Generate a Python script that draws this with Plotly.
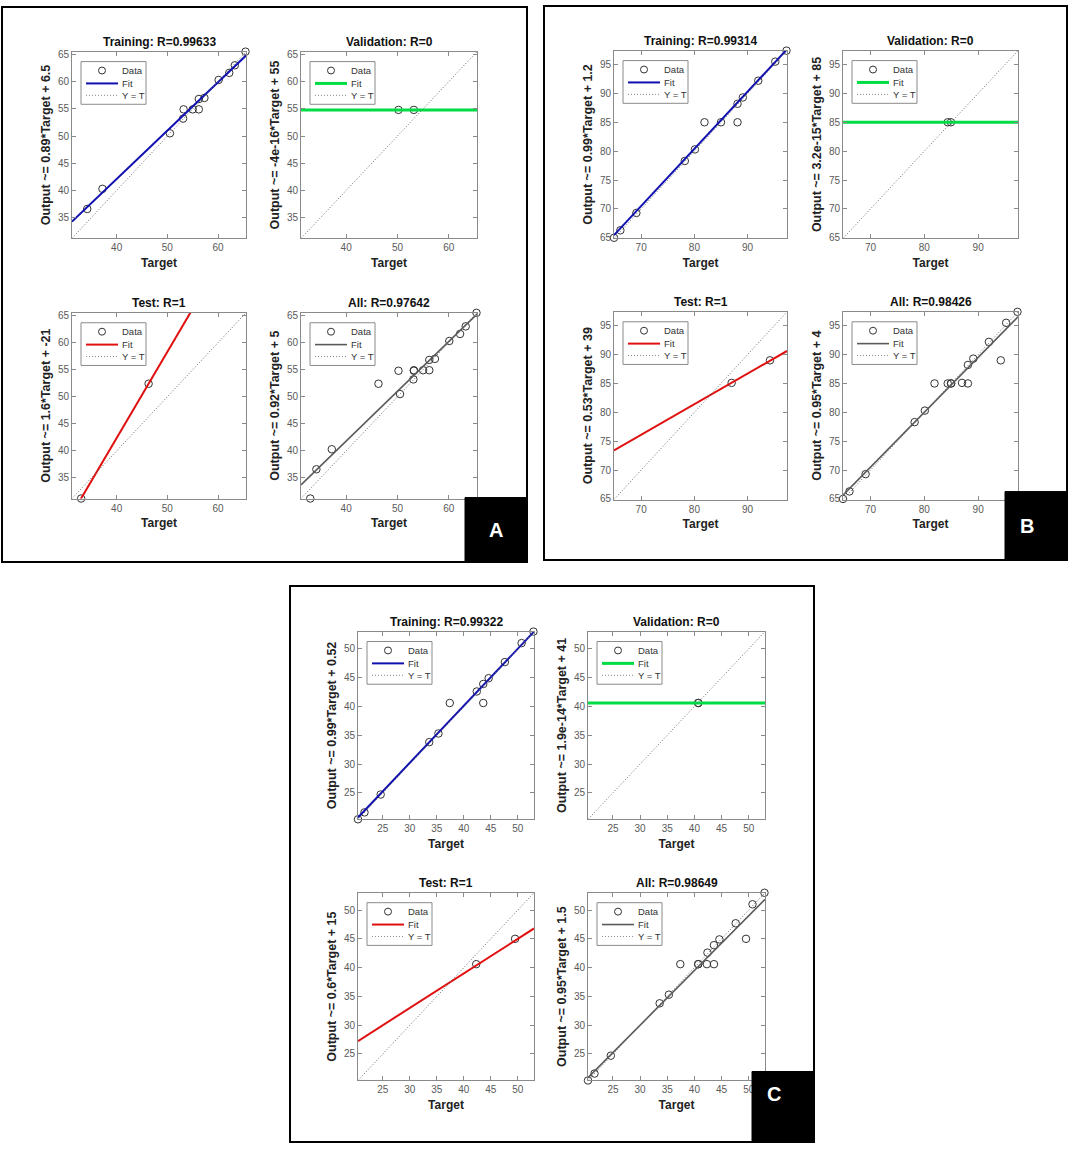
import plotly.graph_objects as go

W, H = 1072, 1150

# ---------------- data ----------------
plot_names = ['Training', 'Validation', 'Test', 'All']

# panel A
A_train_t = [34.2, 37.2, 50.5, 53.1, 53.2, 55.0, 56.2, 56.2, 57.3, 60.1, 62.2, 63.3, 65.4]
A_train_y = [36.6, 40.3, 50.5, 53.2, 54.9, 54.9, 54.9, 56.8, 57.0, 60.3, 61.6, 63.0, 65.5]
A_val_t = [50.2, 53.2]
A_val_y = [54.8, 54.8]
A_test_t = [33.0, 46.3]
A_test_y = [31.2, 52.4]
A_slope = [0.89, 0.0, 1.593, 0.92]
A_icpt = [6.5, 54.8, -21.35, 5.0]
A_R = ['0.99633', '0', '1', '0.97642']
A_eq = ['0.89*Target + 6.5', '-4e-16*Target + 55', '1.6*Target + -21', '0.92*Target + 5']

# panel B
B_train_t = [64.9, 66.1, 69.1, 78.2, 80.1, 81.9, 85.0, 88.1, 88.1, 89.1, 92.0, 95.2, 97.3]
B_train_y = [65.0, 66.3, 69.3, 78.3, 80.3, 85.0, 85.0, 85.0, 88.2, 89.3, 92.2, 95.5, 97.4]
B_val_t = [84.35, 84.95]
B_val_y = [85.0, 85.0]
B_test_t = [87.0, 94.2]
B_test_y = [85.1, 89.0]
B_slope = [0.99, 0.0, 0.53, 0.95]
B_icpt = [1.2, 85.0, 39.0, 4.0]
B_R = ['0.99314', '0', '1', '0.98426']
B_eq = ['0.99*Target + 1.2', '3.2e-15*Target + 85', '0.53*Target + 39', '0.95*Target + 4']

# panel C
C_train_t = [20.4, 21.6, 24.6, 33.6, 35.3, 37.4, 42.4, 43.6, 43.6, 44.6, 47.6, 50.7, 52.9]
C_train_y = [20.4, 21.6, 24.7, 33.8, 35.3, 40.6, 42.6, 43.9, 40.6, 44.9, 47.7, 51.0, 53.0]
C_val_t = [40.7, 40.7]
C_val_y = [40.6, 40.6]
C_test_t = [42.3, 49.5]
C_test_y = [40.6, 45.0]
C_slope = [0.99, 0.0, 0.6, 0.95]
C_icpt = [0.52, 40.6, 15.0, 1.5]
C_R = ['0.99322', '0', '1', '0.98649']
C_eq = ['0.99*Target + 0.52', '1.9e-14*Target + 41', '0.6*Target + 15', '0.95*Target + 1.5']

panels = [
    ('A', A_train_t, A_train_y, A_val_t, A_val_y, A_test_t, A_test_y, A_slope, A_icpt, A_R, A_eq),
    ('B', B_train_t, B_train_y, B_val_t, B_val_y, B_test_t, B_test_y, B_slope, B_icpt, B_R, B_eq),
    ('C', C_train_t, C_train_y, C_val_t, C_val_y, C_test_t, C_test_y, C_slope, C_icpt, C_R, C_eq),
]

# ---------------- layout in page pixels ----------------
# frame, label box, 4 axes boxes as (left, top, right, bottom)
geo = {
    'A': dict(frame=(2, 4, 527, 563), label=(465, 498, 527, 563),
              axes=[(72, 49, 246, 237), (301, 49, 477, 237),
                    (72, 312, 246, 499), (301, 312, 477, 499)],
              dx=10, dy=5),
    'B': dict(frame=(544, 3, 1067, 561), label=(1005, 492, 1067, 561),
              axes=[(614, 48, 787, 237), (843, 48, 1018, 237),
                    (614, 311, 787, 500), (843, 311, 1018, 500)],
              dx=10, dy=5),
    'C': dict(frame=(290, 587, 814, 1147), label=(752, 1076, 814, 1147),
              axes=[(358, 633, 534, 822), (588, 633, 765, 822),
                    (358, 896, 534, 1085), (588, 896, 765, 1085)],
              dx=5, dy=5),
}
fit_colors = ['#1010b0', '#00dd44', '#e01010', '#5a5a5a']
fit_widths = [2, 3, 2, 1.6]
FONT = 'Liberation Sans, Arial, sans-serif'
GREY = '#8a8a8a'


def X(px):
    return px / W


def Y(py):
    return 1 - py / H


fig = go.Figure()
shapes, annots = [], []
k = 0
for name, tt, ty, vt, vy, st, sy, slope, icpt, Rs, eqs in panels:
    g = geo[name]
    all_t = tt + vt + st
    all_y = ty + vy + sy
    lo = min(all_t + all_y)
    hi = max(all_t + all_y)
    sets = [(tt, ty), (vt, vy), (st, sy), (all_t, all_y)]
    for i, (xs, ys) in enumerate(sets):
        k += 1
        sfx = '' if k == 1 else str(k)
        xa, ya = 'x' + sfx, 'y' + sfx
        fig.add_trace(go.Scatter(
            x=xs, y=ys, mode='markers', xaxis=xa, yaxis=ya, showlegend=False,
            marker=dict(symbol='circle-open', size=7.5, color='#333333', line=dict(width=1)),
            cliponaxis=False))
        fig.add_trace(go.Scatter(
            x=[lo, hi], y=[slope[i] * lo + icpt[i], slope[i] * hi + icpt[i]],
            mode='lines', xaxis=xa, yaxis=ya, showlegend=False,
            line=dict(color=fit_colors[i], width=fit_widths[i])))
        fig.add_trace(go.Scatter(
            x=[lo, hi], y=[lo, hi], mode='lines', xaxis=xa, yaxis=ya, showlegend=False,
            line=dict(color='#666666', width=1, dash='1px,2px')))

        l, t, r, b = g['axes'][i]
        axis_common = dict(
            showline=True, linecolor=GREY, linewidth=1, mirror='ticks',
            ticks='inside', ticklen=4, tickcolor=GREY, showgrid=False,
            zeroline=False, tickfont=dict(size=10, color='#5a5a5a'),
            range=[lo, hi])
        fig.layout['xaxis' + sfx] = dict(
            axis_common, domain=[X(l), X(r)], anchor=ya, dtick=g['dx'],
            title=dict(text='<b>Target</b>', font=dict(size=12, color='#222222'), standoff=6))
        fig.layout['yaxis' + sfx] = dict(
            axis_common, domain=[Y(b), Y(t)], anchor=xa, dtick=g['dy'],
            title=dict(text='<b>Output ~= ' + eqs[i] + '</b>',
                       font=dict(size=12.5, color='#222222'), standoff=4))
        annots.append(dict(
            text='<b>' + plot_names[i] + ': R=' + Rs[i] + '</b>',
            x=X((l + r) / 2), y=Y(t), xref='paper', yref='paper',
            xanchor='center', yanchor='bottom', yshift=1, showarrow=False,
            font=dict(size=12, color='#111111')))

        # legend box in the top-left corner of each axes
        bx, by = l + 9, t + 10
        shapes.append(dict(type='rect', xref='paper', yref='paper', layer='above',
                           x0=X(bx), x1=X(bx + 65), y0=Y(by + 43), y1=Y(by),
                           fillcolor='white', line=dict(color=GREY, width=1)))
        shapes.append(dict(type='circle', xref='paper', yref='paper', layer='above',
                           x0=X(bx + 17.5), x1=X(bx + 24.5), y0=Y(by + 12.5), y1=Y(by + 5.5),
                           line=dict(color='#333333', width=1)))
        shapes.append(dict(type='line', xref='paper', yref='paper', layer='above',
                           x0=X(bx + 5), x1=X(bx + 37), y0=Y(by + 22), y1=Y(by + 22),
                           line=dict(color=fit_colors[i], width=fit_widths[i])))
        shapes.append(dict(type='line', xref='paper', yref='paper', layer='above',
                           x0=X(bx + 5), x1=X(bx + 37), y0=Y(by + 34), y1=Y(by + 34),
                           line=dict(color='#888888', width=1, dash='1px,2px')))
        for lab, dy in (('Data', 9), ('Fit', 22), ('Y = T', 34)):
            annots.append(dict(text=lab, x=X(bx + 39), y=Y(by + dy), xref='paper',
                               yref='paper', xanchor='left', yanchor='middle',
                               showarrow=False, font=dict(size=9.5, color='#333333')))

    fl, ft, fr, fb = g['frame']
    shapes.append(dict(type='rect', xref='paper', yref='paper', layer='below',
                       x0=X(fl), x1=X(fr), y0=Y(fb), y1=Y(ft),
                       line=dict(color='black', width=2)))
    bl, bt, br, bb = g['label']
    shapes.append(dict(type='rect', xref='paper', yref='paper', layer='above',
                       x0=X(bl), x1=X(br), y0=Y(bb), y1=Y(bt),
                       fillcolor='black', line=dict(color='black', width=1)))
    annots.append(dict(text='<b>' + name + '</b>', x=X((bl + br) / 2),
                       y=Y((bt + bb) / 2), xref='paper', yref='paper',
                       showarrow=False, font=dict(size=20, color='white')))

fig.update_layout(
    width=W, height=H, margin=dict(l=0, r=0, t=0, b=0),
    paper_bgcolor='white', plot_bgcolor='white',
    font=dict(family=FONT, color='#222222'),
    shapes=shapes, annotations=annots)

# drop the default 8px page margin so the figure sits in the window corner
fig.write_html("out.html", config={'displayModeBar': False},
               post_script="document.body.style.margin='0px';")
